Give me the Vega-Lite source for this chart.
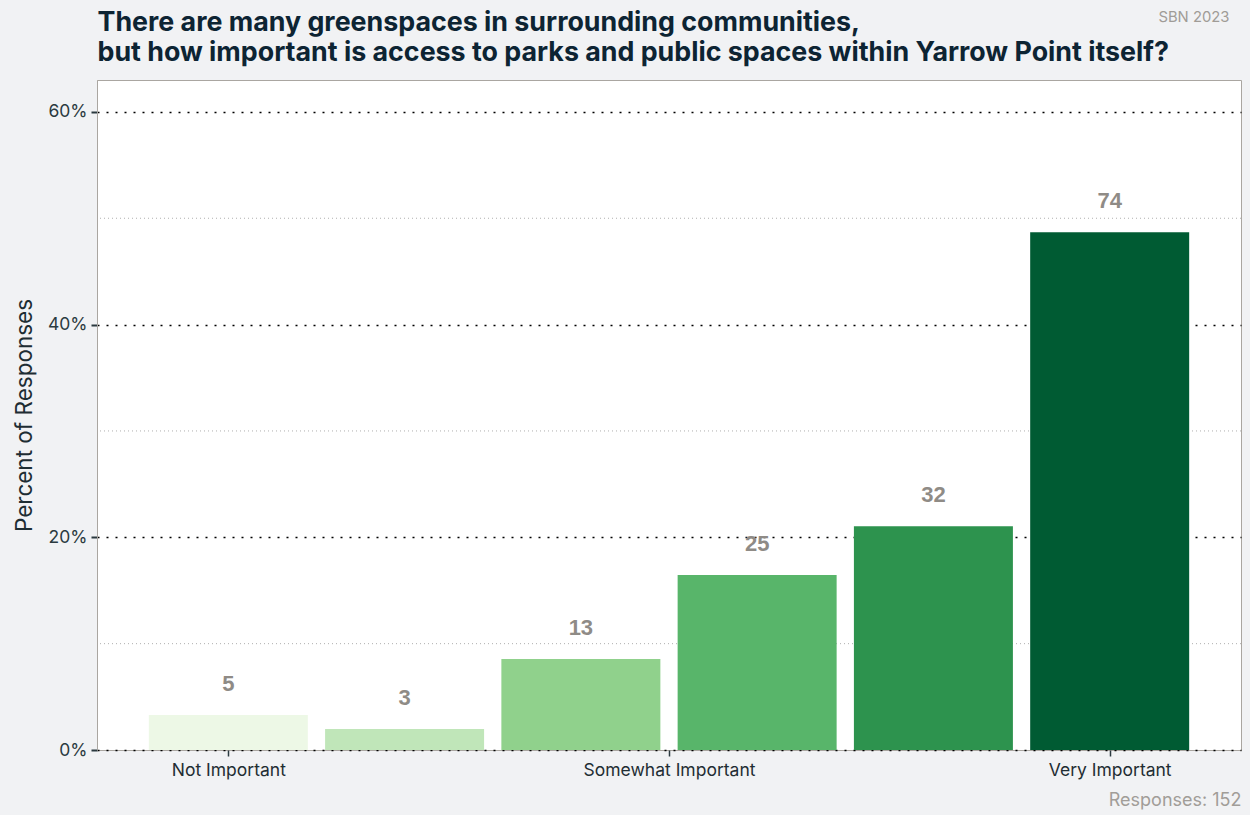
{
  "$schema": "https://vega.github.io/schema/vega-lite/v6.json",
  "width": 1144,
  "height": 670,
  "autosize": {"type": "none"},
  "padding": {"left": 97, "top": 80, "right": 9, "bottom": 65},
  "background": "#f1f2f4",
  "view": {"fill": "white", "stroke": "#aaa6a1", "strokeWidth": 1},
  "title": {
    "text": "SBN 2023",
    "anchor": "end",
    "fontSize": 14.8,
    "fontWeight": "normal",
    "color": "#a09c97",
    "font": "Inter",
    "offset": -16,
    "dx": -12
  },
  "datasets": {
    "responses": [
      {"pos": 1, "level": "1", "count": 5, "pct": 3.29},
      {"pos": 2, "level": "2", "count": 3, "pct": 1.97},
      {"pos": 3, "level": "3", "count": 13, "pct": 8.55},
      {"pos": 4, "level": "4", "count": 25, "pct": 16.45},
      {"pos": 5, "level": "5", "count": 32, "pct": 21.05},
      {"pos": 6, "level": "6", "count": 74, "pct": 48.68}
    ],
    "minor": [{"v": 10}, {"v": 30}, {"v": 50}]
  },
  "layer": [
    {
      "data": {"name": "minor"},
      "mark": {"type": "rule", "color": "#a6a6a6", "strokeDash": [1, 3], "strokeWidth": 0.9},
      "encoding": {
        "y": {
          "field": "v",
          "type": "quantitative",
          "scale": {"domain": [0, 63], "nice": false, "zero": true, "padding": 0},
          "axis": {
            "values": [0, 20, 40, 60],
            "labelExpr": "datum.value + '%'",
            "domain": true,
            "domainColor": "#aaa6a1",
            "domainWidth": 1,
            "ticks": true,
            "tickSize": 6,
            "tickWidth": 2,
            "tickColor": "#2b3a40",
            "grid": true,
            "gridColor": "#000000",
            "gridDash": [2, 7],
            "gridWidth": 1.6,
            "labelFont": "Inter",
            "labelFontSize": 17.5,
            "labelColor": "#2b3a40",
            "labelPadding": 4,
            "title": "Percent of Responses",
            "titleFont": "Inter",
            "titleFontSize": 22.5,
            "titleFontWeight": "normal",
            "titleColor": "#1e2d33",
            "titlePadding": 11
          }
        }
      }
    },
    {
      "data": {"name": "responses"},
      "mark": {"type": "bar", "width": 159},
      "encoding": {
        "x": {
          "field": "pos",
          "type": "quantitative",
          "scale": {"domain": [0.255, 6.745], "nice": false, "zero": false, "padding": 0},
          "axis": {
            "orient": "bottom",
            "values": [1, 3.5, 6],
            "labelExpr": "datum.value == 1 ? 'Not Important' : datum.value == 6 ? 'Very Important' : 'Somewhat Important'",
            "domain": false,
            "grid": false,
            "ticks": true,
            "tickSize": 6,
            "tickWidth": 1.5,
            "tickColor": "#2b3a40",
            "labelFont": "Inter",
            "labelFontSize": 17.5,
            "labelColor": "#1f2d33",
            "labelPadding": 5,
            "title": "Responses: 152",
            "titleFont": "Inter",
            "titleFontSize": 18,
            "titleFontWeight": "normal",
            "titleColor": "#a19d98",
            "titleAnchor": "end",
            "titleAlign": "right",
            "titleX": 1144,
            "titleY": 55,
            "titleBaseline": "alphabetic"
          }
        },
        "y": {
          "field": "pct",
          "type": "quantitative",
          "scale": {"domain": [0, 63], "nice": false, "zero": true, "padding": 0},
          "axis": {
            "values": [0, 20, 40, 60],
            "labelExpr": "datum.value + '%'",
            "domain": true,
            "domainColor": "#aaa6a1",
            "domainWidth": 1,
            "ticks": true,
            "tickSize": 6,
            "tickWidth": 2,
            "tickColor": "#2b3a40",
            "grid": true,
            "gridColor": "#000000",
            "gridDash": [2, 7],
            "gridWidth": 1.6,
            "labelFont": "Inter",
            "labelFontSize": 17.5,
            "labelColor": "#2b3a40",
            "labelPadding": 4,
            "title": "Percent of Responses",
            "titleFont": "Inter",
            "titleFontSize": 22.5,
            "titleFontWeight": "normal",
            "titleColor": "#1e2d33",
            "titlePadding": 11
          }
        },
        "color": {
          "field": "level",
          "type": "nominal",
          "scale": {"domain": ["1", "2", "3", "4", "5", "6"], "range": ["#edf8e6", "#c0e6b9", "#90d18c", "#58b56a", "#2d934e", "#005b33"]},
          "legend": null
        }
      }
    },
    {
      "data": {"name": "responses"},
      "mark": {"type": "text", "dy": -31, "baseline": "middle", "align": "center", "font": "Liberation Sans", "fontSize": 22, "fontWeight": "bold", "color": "#8f8b86"},
      "encoding": {
        "x": {
          "field": "pos",
          "type": "quantitative",
          "scale": {"domain": [0.255, 6.745], "nice": false, "zero": false, "padding": 0},
          "axis": {
            "orient": "top",
            "labels": false,
            "ticks": false,
            "domain": false,
            "grid": false,
            "title": ["There are many greenspaces in surrounding communities,", "but how important is access to parks and public spaces within Yarrow Point itself?"],
            "titleFont": "Inter",
            "titleFontSize": 26.8,
            "titleFontWeight": "bold",
            "titleColor": "#0d2433",
            "titleAnchor": "start",
            "titleAlign": "left",
            "titleX": 0,
            "titleY": -50,
            "titleBaseline": "alphabetic",
            "titleLineHeight": 30
          }
        },
        "y": {
          "field": "pct",
          "type": "quantitative",
          "scale": {"domain": [0, 63], "nice": false, "zero": true, "padding": 0},
          "axis": {
            "values": [0, 20, 40, 60],
            "labelExpr": "datum.value + '%'",
            "domain": true,
            "domainColor": "#aaa6a1",
            "domainWidth": 1,
            "ticks": true,
            "tickSize": 6,
            "tickWidth": 2,
            "tickColor": "#2b3a40",
            "grid": true,
            "gridColor": "#000000",
            "gridDash": [2, 7],
            "gridWidth": 1.6,
            "labelFont": "Inter",
            "labelFontSize": 17.5,
            "labelColor": "#2b3a40",
            "labelPadding": 4,
            "title": "Percent of Responses",
            "titleFont": "Inter",
            "titleFontSize": 22.5,
            "titleFontWeight": "normal",
            "titleColor": "#1e2d33",
            "titlePadding": 11
          }
        },
        "text": {"field": "count", "type": "quantitative"}
      }
    }
  ],
  "resolve": {"axis": {"x": "independent"}}
}
